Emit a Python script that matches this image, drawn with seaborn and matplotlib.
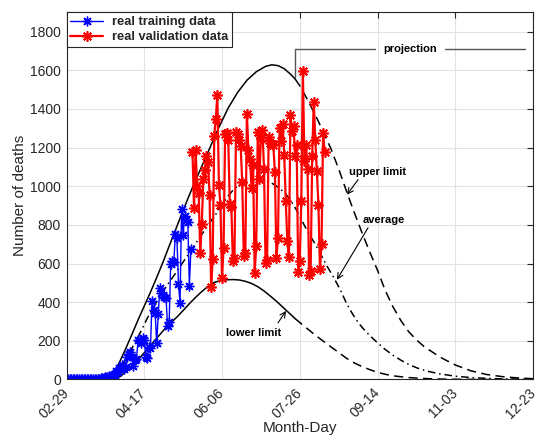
import numpy as np
import pandas as pd
import matplotlib
matplotlib.use("Agg")
import matplotlib.pyplot as plt
import seaborn as sns
from matplotlib.lines import Line2D

# ---------------------------------------------------------------- data
tick_days = [0, 50, 100, 150, 200, 250, 300]
tick_labels = ["02-29", "04-17", "06-06", "07-26", "09-14", "11-03", "12-23"]

# daily deaths, day 1 = 02-29
train_deaths = [
    0, 0, 0, 0, 0, 0, 0, 0, 0, 0, 0, 0, 0, 0, 0, 0, 0,
    1, 3, 3, 4, 7, 7, 9, 12, 11, 20, 15, 22, 22, 23, 42,
    40, 58, 60, 73, 54, 67, 114, 133, 141, 115, 68, 99, 105, 204, 204,
    188, 217, 206, 115, 113, 166, 165, 407, 357, 346, 189, 338, 474, 449, 435,
    428, 421, 275, 296, 600, 615, 610, 751, 730, 496, 396, 881, 749, 844,
    824, 816, 485, 674,
]
valid_deaths = [
    1179, 888, 1188, 1001, 965, 653, 807, 1039, 1086, 1156, 1124, 956, 480,
    623, 1262, 1349, 1473, 1005, 904, 525, 679, 1272, 1274, 1239, 909, 892,
    612, 627, 1282, 1269, 1238, 1206, 1022, 641, 654, 1374, 1185, 1141, 990,
    1109, 552, 692, 1280,
    1038, 1252, 1290, 1091, 602, 620, 1254, 1223, 1220, 1214, 1071, 631, 733,
    1300, 1233, 1322, 1163, 921, 716, 632, 1367, 1284, 1311, 1156, 1211, 555,
    614, 921, 1595, 1129, 1212,
    1088, 541, 561, 1154, 1437, 1237, 1079, 905, 572, 703, 1274, 1175,
]

# model curves (fitted part and projection)
upper_fit_days = [26, 30, 34, 38, 42, 46, 50, 54, 58, 62, 66, 70, 74, 78, 82,
                  86, 92, 98, 104, 110, 116, 122, 128, 132, 136, 140, 144, 147]
upper_fit = [0, 28, 88, 158, 232, 308, 380, 452, 528, 606, 690, 772, 855, 935,
             1012, 1085, 1195, 1305, 1405, 1485, 1548, 1592, 1620, 1628, 1624,
             1608, 1580, 1555]
upper_proj_days = [147, 150, 154, 158, 162, 166, 170, 175, 180, 185, 190, 195,
                   200, 205, 210, 215, 220, 225, 230, 236, 242, 250, 260, 270,
                   280, 290, 300]
upper_proj = [1555, 1520, 1462, 1400, 1335, 1265, 1195, 1090, 975, 865, 760,
              660, 565, 460, 375, 305, 248, 205, 170, 138, 108, 75, 45, 26,
              15, 8, 4]

avg_days = [28, 32, 36, 40, 44, 48, 52, 56, 60, 64, 68, 72, 76, 80, 84, 88, 92,
            96, 100, 104, 108, 112, 116, 120, 124, 128, 132, 136, 140, 144,
            148, 152, 156, 160, 164, 168, 172, 176, 180, 184, 188, 192, 196,
            200, 205, 210, 215, 220, 226, 232, 240, 250, 260, 270, 280, 290,
            300]
avg_vals = [0, 30, 78, 132, 190, 252, 318, 375, 430, 480, 525, 572, 620, 668,
            715, 762, 810, 855, 905, 950, 988, 1012, 1027, 1034, 1036, 1030,
            1016, 995, 968, 930, 875, 812, 752, 700, 640, 580, 525, 465, 395,
            338, 290, 252, 220, 190, 155, 125, 100, 78, 58, 43, 29, 17, 10, 6,
            3, 2, 1]

lower_fit_days = [31, 35, 39, 43, 47, 51, 55, 59, 63, 67, 71, 75, 79, 83, 87,
                  91, 95, 99, 103, 107, 111, 115, 119, 123, 127, 131, 135, 139,
                  143, 147]
lower_fit = [0, 18, 48, 80, 112, 147, 185, 223, 260, 293, 323, 357, 392, 425,
             455, 482, 502, 512, 516, 517, 515, 508, 497, 480, 458, 432, 405,
             375, 345, 315]
lower_proj_days = [147, 151, 155, 159, 163, 167, 171, 175, 180, 185, 190, 195,
                   200, 206, 212, 220, 228, 236, 245, 255, 270, 285, 300]
lower_proj = [315, 288, 262, 236, 211, 187, 163, 140, 110, 86, 67, 51, 37, 25,
              17, 10, 6, 3, 1.5, 1, 0, 0, 0]

train = pd.DataFrame({"day": np.arange(1, len(train_deaths) + 1),
                      "deaths": train_deaths})
valid = pd.DataFrame({"day": np.arange(len(train_deaths) + 1,
                                       len(train_deaths) + len(valid_deaths) + 1),
                      "deaths": valid_deaths})

# ---------------------------------------------------------------- style
sns.set_style("white")
plt.rcParams["font.family"] = ["Liberation Sans", "DejaVu Sans"]
dark = "#262626"

fig = plt.figure(figsize=(5.52, 4.38), dpi=100)
ax = fig.add_axes([0.1205, 0.1336, 0.8451, 0.8384])

dash = (0, (6, 3.5))
dashdot = (0, (5, 2.5, 1, 2.5))
curve_kw = dict(ax=ax, color="k", lw=1.1, errorbar=None, sort=False)

sns.lineplot(x=upper_fit_days, y=upper_fit, linestyle="-", **curve_kw)
sns.lineplot(x=upper_proj_days, y=upper_proj, linestyle=dash, **curve_kw)
sns.lineplot(x=avg_days, y=avg_vals, linestyle=dashdot, **curve_kw)
sns.lineplot(x=lower_fit_days, y=lower_fit, linestyle="-", **curve_kw)
sns.lineplot(x=lower_proj_days, y=lower_proj, linestyle=dash, **curve_kw)

star = (8, 2, 0)
blue_kw = dict(color="#0000ff", lw=1.0, marker=star, markersize=7,
               markeredgecolor="#0000ff", markeredgewidth=1.0)
red_kw = dict(color="#ff0000", lw=1.6, marker=star, markersize=7.5,
              markeredgecolor="#ff0000", markeredgewidth=1.2)
sns.lineplot(data=train, x="day", y="deaths", ax=ax, errorbar=None,
             sort=False, **blue_kw)
sns.lineplot(data=valid, x="day", y="deaths", ax=ax, errorbar=None,
             sort=False, **red_kw)

# ---------------------------------------------------------------- axes
ax.set_xlim(0, 300)
ax.set_ylim(0, 1900)
ax.set_xticks(tick_days)
ax.set_xticklabels(tick_labels, rotation=45, ha="right", va="center",
                   rotation_mode="anchor")
ax.set_yticks(range(0, 1801, 200))
ax.grid(True, color="#e2e2e2", lw=0.8)
ax.set_axisbelow(True)
for sp in ax.spines.values():
    sp.set_color(dark)
    sp.set_linewidth(0.8)
ax.tick_params(direction="in", length=4, width=0.8, top=True, right=True,
               labelsize=10, colors=dark)
ax.tick_params(axis="x", pad=8)
ax.tick_params(axis="y", pad=4)
ax.set_xlabel("Month-Day", fontsize=11, color=dark, va="top")
ax.xaxis.set_label_coords(0.5, -0.114)
ax.set_ylabel("Number of deaths", fontsize=11, color=dark, labelpad=2)

# ---------------------------------------------------------------- annotations
bold = dict(fontsize=8, fontweight="bold", color="k", ha="center", va="center")
gray = "#555555"
ax.plot([146.9, 146.9, 198.4], [1567, 1710, 1710], color=gray, lw=1)
ax.plot([243.4, 294.8], [1710, 1710], color=gray, lw=1)
ax.text(220.9, 1710, "projection", **bold)

arrow = dict(arrowstyle="->", color="k", lw=0.8, shrinkA=0, shrinkB=0)
ax.text(200.3, 1075, "upper limit", **bold)
ax.annotate("", xy=(180.4, 956), xytext=(187.5, 1034), arrowprops=arrow)
ax.text(204.2, 826, "average", **bold)
ax.annotate("", xy=(173.9, 516), xytext=(193.9, 785), arrowprops=arrow)
ax.text(120.6, 241, "lower limit", **bold)
ax.annotate("", xy=(141.2, 355), xytext=(136.0, 293), arrowprops=arrow)

# ---------------------------------------------------------------- legend
handles = [Line2D([], [], **blue_kw), Line2D([], [], **red_kw)]
leg = ax.legend(handles, ["real training data", "real validation data"],
                loc="upper left", bbox_to_anchor=(0, 1), borderaxespad=0,
                frameon=True, fancybox=False, framealpha=1, edgecolor=dark,
                prop=dict(weight="bold", size=9.3), handlelength=2.5,
                handletextpad=0.7, borderpad=0.3, labelspacing=0.25)
leg.get_frame().set_linewidth(0.8)

fig.savefig("out.png", dpi=100)
